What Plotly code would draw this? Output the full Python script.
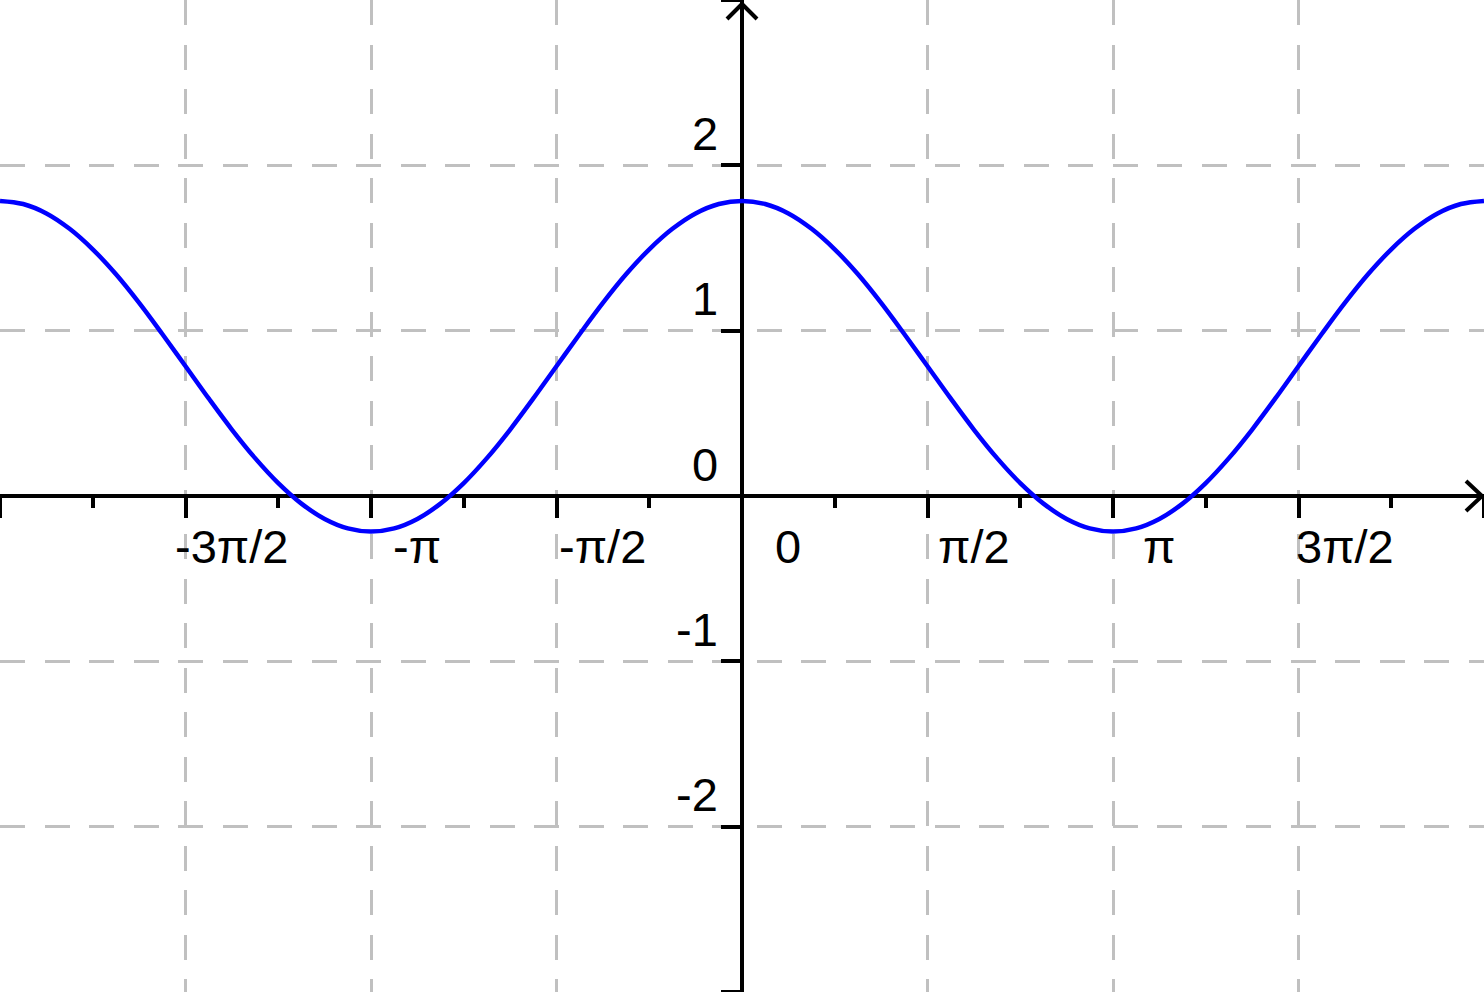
import plotly.graph_objects as go

PI = 3.141592653589793

# Curve samples (x in radians, read every pi/16 from the picture)
x_vals = [-6.283, -5.890, -5.498, -5.105, -4.712, -4.320, -3.927, -3.534,
          -3.142, -2.749, -2.356, -1.963, -1.571, -1.178, -0.785, -0.393,
          0.000, 0.393, 0.785, 1.178, 1.571, 1.963, 2.356, 2.749,
          3.142, 3.534, 3.927, 4.320, 4.712, 5.105, 5.498, 5.890, 6.283]
x_mid = [-6.087, -5.694, -5.301, -4.909, -4.516, -4.123, -3.731, -3.338,
         -2.945, -2.553, -2.160, -1.767, -1.374, -0.982, -0.589, -0.196,
         0.196, 0.589, 0.982, 1.374, 1.767, 2.160, 2.553, 2.945,
         3.338, 3.731, 4.123, 4.516, 4.909, 5.301, 5.694, 6.087]
y_vals = [1.785, 1.709, 1.492, 1.168, 0.785, 0.402, 0.078, -0.139,
          -0.215, -0.139, 0.078, 0.402, 0.785, 1.168, 1.492, 1.709,
          1.785, 1.709, 1.492, 1.168, 0.785, 0.402, 0.078, -0.139,
          -0.215, -0.139, 0.078, 0.402, 0.785, 1.168, 1.492, 1.709, 1.785]
y_mid = [1.766, 1.616, 1.341, 0.980, 0.590, 0.229, -0.046, -0.196,
         -0.196, -0.046, 0.229, 0.590, 0.980, 1.341, 1.616, 1.766,
         1.766, 1.616, 1.341, 0.980, 0.590, 0.229, -0.046, -0.196,
         -0.196, -0.046, 0.229, 0.590, 0.980, 1.341, 1.616, 1.766]

# interleave the two sample sets into one ordered series
curve_x, curve_y = [], []
for i in range(len(x_mid)):
    curve_x += [x_vals[i], x_mid[i]]
    curve_y += [y_vals[i], y_mid[i]]
curve_x.append(x_vals[-1])
curve_y.append(y_vals[-1])

# Axis ticks / labels
x_major_ticks = [-2 * PI, -1.5 * PI, -PI, -0.5 * PI, 0, 0.5 * PI, PI, 1.5 * PI, 2 * PI]
x_minor_ticks = [-1.75 * PI, -1.25 * PI, -0.75 * PI, -0.25 * PI,
                 0.25 * PI, 0.75 * PI, 1.25 * PI, 1.75 * PI]
x_label_vals = [-1.5 * PI, -PI, -0.5 * PI, 0, 0.5 * PI, PI, 1.5 * PI]
x_label_text = ["-3π/2", "-π", "-π/2", "0", "π/2", "π", "3π/2"]
y_major_ticks = [-3, -2, -1, 0, 1, 2, 3]
y_label_vals = [2, 1, 0, -1, -2]
y_label_text = ["2", "1", "0", "-1", "-2"]

FONT = "Liberation Sans, Arial, sans-serif"
FS = 47
GRID = "#c0c0c0"

fig = go.Figure()
fig.add_trace(go.Scatter(
    x=curve_x, y=curve_y, mode="lines",
    line=dict(color="#0000ff", width=4.5, shape="spline", smoothing=1.0),
    hoverinfo="skip", showlegend=False,
))

annotations = []
for v, t in zip(x_label_vals, x_label_text):
    annotations.append(dict(
        x=v, y=0, xref="x", yref="y", text=t, showarrow=False,
        xanchor="center", yanchor="middle", xshift=46, yshift=-50,
        font=dict(family=FONT, size=FS, color="black"),
    ))
for v, t in zip(y_label_vals, y_label_text):
    annotations.append(dict(
        x=0, y=v, xref="x", yref="y", text=t, showarrow=False,
        xanchor="right", yanchor="middle", xshift=-22, yshift=32,
        font=dict(family=FONT, size=FS, color="black"),
    ))

shapes = []
arrow_line = dict(color="black", width=4)
# x-axis arrow head (at right end)
for dy in (15, -15):
    shapes.append(dict(
        type="line", xref="x", yref="y",
        xsizemode="pixel", ysizemode="pixel",
        xanchor=2 * PI, yanchor=0,
        x0=-2, y0=0, x1=-18, y1=dy,
        line=arrow_line, layer="above",
    ))
# y-axis arrow head (at top)
for dx in (15, -15):
    shapes.append(dict(
        type="line", xref="x", yref="y",
        xsizemode="pixel", ysizemode="pixel",
        xanchor=0, yanchor=3,
        x0=0, y0=-4, x1=dx, y1=-19,
        line=arrow_line, layer="above",
    ))

fig.update_layout(
    width=1484, height=992, autosize=False,
    margin=dict(l=0, r=0, t=0, b=0, pad=0),
    paper_bgcolor="white", plot_bgcolor="white",
    showlegend=False,
    annotations=annotations,
    shapes=shapes,
    xaxis=dict(
        range=[-2 * PI, 2 * PI], anchor="free", position=0.5,
        tickvals=x_major_ticks, showticklabels=False,
        ticks="outside", ticklen=20, tickwidth=4, tickcolor="black",
        minor=dict(tickvals=x_minor_ticks, ticks="outside", ticklen=10,
                   tickwidth=4, tickcolor="black", showgrid=False),
        showgrid=True, gridcolor=GRID, gridwidth=3, griddash="25px,19.5px",
        showline=True, linecolor="black", linewidth=4,
        zeroline=False, layer="below traces", fixedrange=True,
    ),
    yaxis=dict(
        range=[-3, 3], anchor="free", position=0.5,
        tickvals=y_major_ticks, showticklabels=False,
        ticks="outside", ticklen=19, tickwidth=4, tickcolor="black",
        showgrid=True, gridcolor=GRID, gridwidth=3, griddash="25px,19.5px",
        showline=True, linecolor="black", linewidth=4,
        zeroline=False, layer="below traces", fixedrange=True,
    ),
)

fig.write_html(
    "out.html",
    config={"displayModeBar": False},
    post_script="document.body.style.margin='0';document.body.style.overflow='hidden';",
)
